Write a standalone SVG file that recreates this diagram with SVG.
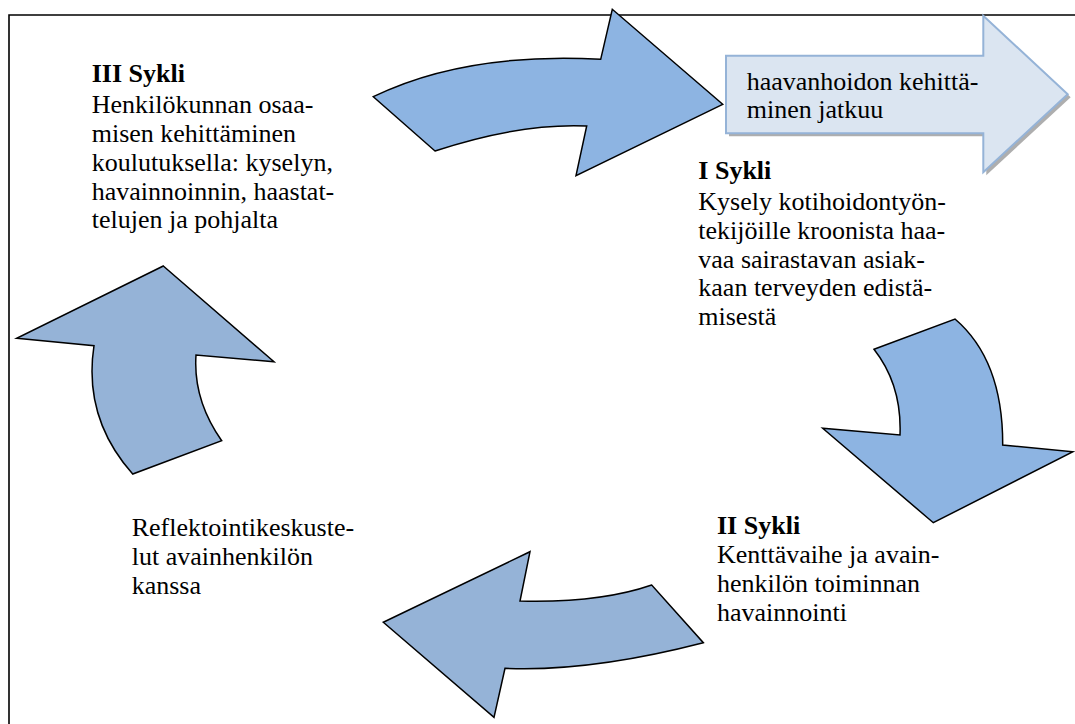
<svg xmlns="http://www.w3.org/2000/svg" width="1075" height="724" viewBox="0 0 1075 724">
<style>
  text { font-family: "Liberation Serif", "Times New Roman", serif; font-size: 26px; fill: #000; }
  .h { font-weight: bold; }
  .arrowA { fill: #8db4e2; stroke: #000; stroke-width: 1.5; stroke-linejoin: miter; }
  .arrowB { fill: #95b3d7; stroke: #000; stroke-width: 1.5; stroke-linejoin: miter; }
  .frame { fill: none; stroke: #000; stroke-width: 1.6; }
</style>
<rect width="1075" height="724" fill="#fff"/>
<path class="frame" d="M9,724 V15 H1075"/>

<g id="connectors">
  <path id="arrow-top" class="arrowA" d="M373.3,96.7 Q465,52 600.7,59.3 L612.3,9.3 L722.7,104.3 L576,175.7 L586.7,126 Q520,123 435,151 Z"/>
  <path id="arrow-right" class="arrowA" d="M874,349.3 L955,319 Q1003,360 1002.7,445 L1073,451.7 L933.3,522.7 L822.7,428.3 L900,435 Q902,385 874,349.3 Z"/>
  <path id="arrow-bottom" class="arrowB" d="M530,551.7 L520,601 Q600,603 651.7,585 L703.3,642.7 Q590,672 505,668.3 L494,717.3 L383.3,622.3 Z"/>
  <path id="arrow-left" class="arrowB" d="M163.3,266 L274,361.7 L196,355 Q193,400 221.7,440.7 L132.7,474 Q83,418 94,345.7 L16.7,338.3 Z"/>
</g>

<g id="node-continue">
  <polygon points="729,58.7 986.3,58.7 986.3,18.7 1070.7,97.3 986.3,175.3 986.3,136.3 729,136.3" fill="#9a9a9a" opacity="0.8"/>
  <polygon points="726,55.7 983.3,55.7 983.3,15.7 1067.7,94.3 983.3,172.3 983.3,133.3 726,133.3" fill="#dbe5f1" stroke="#95b3d7" stroke-width="2"/>
  <text x="746.7" y="90">haavanhoidon kehittä-</text>
  <text x="746.7" y="118">minen jatkuu</text>
</g>

<g id="node-cycle3">
  <text class="h" x="91.7" y="82">III Sykli</text>
  <text x="91.7" y="113.3">Henkilökunnan osaa-</text>
  <text x="91.7" y="142">misen kehittäminen</text>
  <text x="91.7" y="170.8">koulutuksella: kyselyn,</text>
  <text x="91.7" y="199.5">havainnoinnin, haastat-</text>
  <text x="91.7" y="228.3">telujen ja pohjalta</text>
</g>

<g id="node-cycle1">
  <text class="h" x="698.3" y="179.3">I Sykli</text>
  <text x="698.3" y="210">Kysely kotihoidontyön-</text>
  <text x="698.3" y="238.8">tekijöille kroonista haa-</text>
  <text x="698.3" y="267.5">vaa sairastavan asiak-</text>
  <text x="698.3" y="296.3">kaan terveyden edistä-</text>
  <text x="698.3" y="325">misestä</text>
</g>

<g id="node-cycle2">
  <text class="h" x="717" y="533.5">II Sykli</text>
  <text x="717" y="563">Kenttävaihe ja avain-</text>
  <text x="717" y="591.8">henkilön toiminnan</text>
  <text x="717" y="620.5">havainnointi</text>
</g>

<g id="node-reflect">
  <text x="131.7" y="536">Reflektointikeskuste-</text>
  <text x="131.7" y="565">lut avainhenkilön</text>
  <text x="131.7" y="594">kanssa</text>
</g>
</svg>
